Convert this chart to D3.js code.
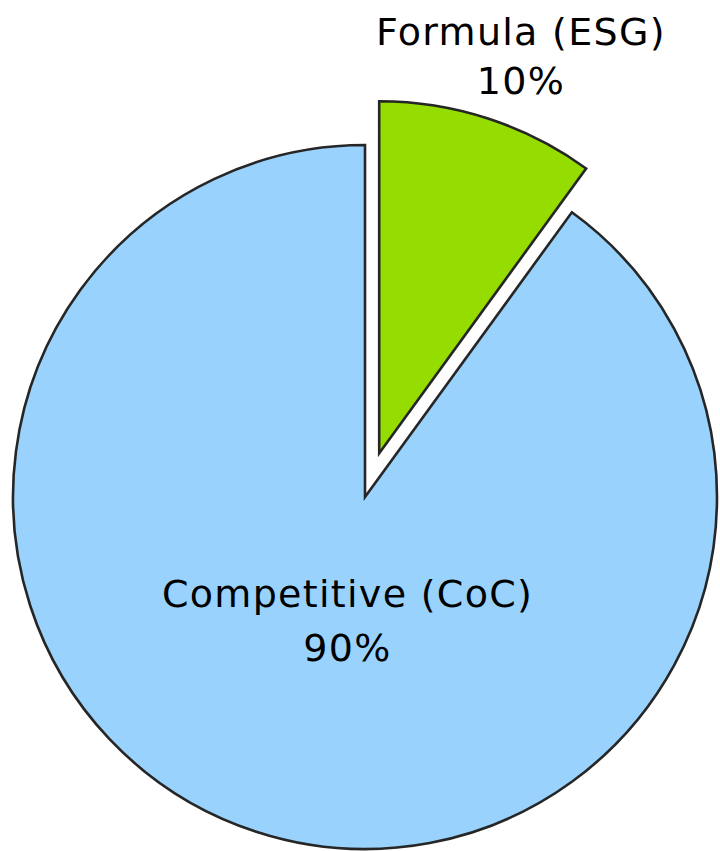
<!DOCTYPE html>
<html>
<head>
<meta charset="utf-8">
<script src="https://cdn.jsdelivr.net/npm/d3@7"></script>
<style>
  html, body { margin: 0; padding: 0; background: #ffffff; }
  svg { display: block; }
  text { font-family: "DejaVu Sans", Verdana, sans-serif; fill: #000; }
</style>
</head>
<body>
<div id="chart"></div>
<script>
// slice data
const categories = ['Formula (ESG)', 'Competitive (CoC)'];
const values = [10, 90];
const percentLabels = ['10%', '90%'];
const colors = ['#95dc00', '#99d3fd'];
const exploded = [true, false];

const width = 720, height = 851;
const cx = 365, cy = 497, radius = 352;
const explodeOffset = 46;

const svg = d3.select('#chart').append('svg')
  .attr('width', width)
  .attr('height', height);

// soft dark edge like the original render
const defs = svg.append('defs');
const f = defs.append('filter').attr('id', 'soft')
  .attr('x', '-5%').attr('y', '-5%').attr('width', '110%').attr('height', '110%');
f.append('feGaussianBlur').attr('stdDeviation', 0.6);

const pie = d3.pie().sort(null).value(d => d.value);
const data = pie(categories.map((c, i) => ({ label: c, value: values[i], pct: percentLabels[i], color: colors[i], explode: exploded[i] })));

const arc = d3.arc().innerRadius(0).outerRadius(radius);

const g = svg.append('g').attr('transform', `translate(${cx},${cy})`);

function offsetOf(d) {
  if (!d.data.explode) return [0, 0];
  const a = (d.startAngle + d.endAngle) / 2;
  return [Math.sin(a) * explodeOffset, -Math.cos(a) * explodeOffset];
}

g.selectAll('.slice')
  .data(data)
  .enter()
  .append('path')
  .attr('class', 'slice')
  .attr('d', arc)
  .attr('transform', d => `translate(${offsetOf(d)})`)
  .attr('fill', d => d.data.color)
  .attr('stroke', '#262626')
  .attr('stroke-width', 2.6)
  .attr('stroke-linejoin', 'miter')
  .attr('filter', 'url(#soft)');

// labels: exploded slice gets an outside label, the big one sits inside
const labels = g.selectAll('.label')
  .data(data)
  .enter()
  .append('text')
  .attr('class', 'label')
  .attr('text-anchor', 'middle')
  .attr('font-size', 38)
  .attr('letter-spacing', 1.3)
  .attr('transform', d => {
    let p;
    if (d.data.explode) {
      const a = (d.startAngle + d.endAngle) / 2 + 0.03;
      p = [Math.sin(a) * 462, -Math.cos(a) * 462 - 17];
    } else {
      const a = Math.PI + 0.14;
      p = [Math.sin(a) * 125, -Math.cos(a) * 125 - 14];
    }
    return `translate(${p})`;
  });

labels.append('tspan')
  .attr('x', 0)
  .attr('dy', 0)
  .text(d => d.data.label);

labels.append('tspan')
  .attr('x', 0)
  .attr('dy', d => d.data.explode ? 49 : 54)
  .text(d => d.data.pct);
</script>
</body>
</html>
